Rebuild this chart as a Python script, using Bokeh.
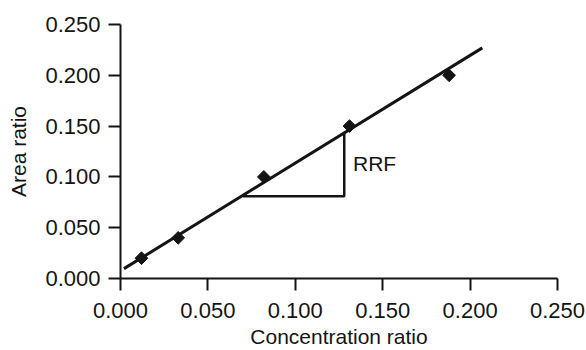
import math
from bokeh.plotting import figure
from bokeh.models import Range1d, FixedTicker, NumeralTickFormatter, Label
from bokeh.embed import file_html
from bokeh.resources import INLINE

# Data
conc_ratio = [0.012, 0.033, 0.082, 0.131, 0.188]
area_ratio = [0.020, 0.040, 0.100, 0.150, 0.200]
fit_x = [0.002, 0.207]
fit_y = [0.0097, 0.227]
tri_x = [0.070, 0.128, 0.128]
tri_y = [0.081, 0.081, 0.143]
ticks = [0.0, 0.05, 0.10, 0.15, 0.20, 0.25]

FONT = "Liberation Sans"
INK = "#141414"

p = figure(width=586, height=350, output_backend="svg", toolbar_location=None,
           x_range=Range1d(0, 0.25), y_range=Range1d(0, 0.25),
           min_border_left=120, min_border_right=29, min_border_top=24, min_border_bottom=71)
p.outline_line_color = None
p.xgrid.visible = False
p.ygrid.visible = False
p.background_fill_color = "white"
p.border_fill_color = "white"

for ax in (p.xaxis[0], p.yaxis[0]):
    ax.ticker = FixedTicker(ticks=ticks)
    ax.formatter = NumeralTickFormatter(format="0.000")
    ax.minor_tick_line_color = None
    ax.major_tick_in = 0
    ax.major_tick_out = 12
    ax.major_tick_line_width = 2
    ax.major_tick_line_color = INK
    ax.axis_line_width = 2
    ax.axis_line_color = INK
    ax.major_label_text_font = FONT
    ax.major_label_text_font_size = "22px"
    ax.major_label_text_color = INK
    ax.axis_label_text_font = FONT
    ax.axis_label_text_font_size = "21px"
    ax.axis_label_text_font_style = "normal"
    ax.axis_label_text_color = INK

p.xaxis.axis_label = "Concentration ratio"
p.yaxis.axis_label = "Area ratio"
p.xaxis.major_label_standoff = 12
p.yaxis.major_label_standoff = 8
p.xaxis.axis_label_standoff = 4
p.yaxis.axis_label_standoff = 12

p.line(fit_x, fit_y, line_color=INK, line_width=3)
p.line(tri_x, tri_y, line_color=INK, line_width=2.5)
p.scatter(conc_ratio, area_ratio, marker="square", angle=math.pi / 4, size=9,
          fill_color=INK, line_color=INK)

p.add_layout(Label(x=0.133, y=0.113, text="RRF", text_font=FONT, text_font_size="21px",
                   text_color=INK, text_baseline="middle", text_align="left"))

open("out.html", "w").write(file_html(p, INLINE))
